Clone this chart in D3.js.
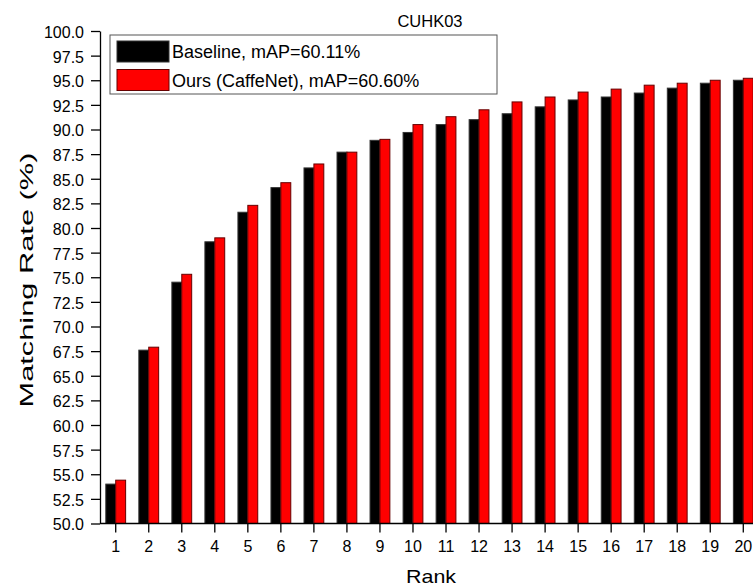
<!DOCTYPE html>
<html><head><meta charset="utf-8">
<script src="https://cdn.jsdelivr.net/npm/d3@7"></script>
<style>body{margin:0;background:#fff;} text{font-family:"Liberation Sans",Arial,sans-serif;}</style>
</head><body><svg id="c" width="753" height="586"></svg>
<script>
const ranks = ["1","2","3","4","5","6","7","8","9","10","11","12","13","14","15","16","17","18","19","20"];
const baseline = [54.0,67.6,74.5,78.6,81.6,84.1,86.1,87.7,88.9,89.7,90.5,91.0,91.6,92.3,93.0,93.3,93.7,94.2,94.7,95.0];
const ours = [54.4,67.9,75.3,79.0,82.3,84.6,86.5,87.7,89.0,90.5,91.3,92.0,92.8,93.3,93.8,94.1,94.5,94.7,95.0,95.2];
const yTicks = [50,52.5,55,57.5,60,62.5,65,67.5,70,72.5,75,77.5,80,82.5,85,87.5,90,92.5,95,97.5,100];
const seriesNames = ["Baseline, mAP=60.11%","Ours (CaffeNet), mAP=60.60%"];
const seriesColors = ["#000000","#ff0000"];

(function(){
const svg = d3.select("#c");
const mLeft = 100, mRight = 760, mTop = 31, mBottom = 523.5;
const x = d3.scaleBand().domain(ranks).range([99.2, 759.8]).paddingInner(0.4).paddingOuter(0.2);
const x1 = d3.scaleBand().domain([0,1]).range([0, x.bandwidth()]);
const y = d3.scaleLinear().domain([50,100]).range([mBottom, mTop]);

const data = ranks.map((r,i)=>({r, vals:[baseline[i], ours[i]]}));
const g = svg.append("g");
g.selectAll("g.grp").data(data).join("g").attr("class","grp")
  .attr("transform", d=>`translate(${x(d.r)},0)`)
  .selectAll("rect").data(d=>d.vals.map((v,k)=>({v,k}))).join("rect")
  .attr("x", d=>x1(d.k)).attr("width", x1.bandwidth())
  .attr("y", d=>y(d.v)).attr("height", d=>y(50)-y(d.v))
  .attr("fill", d=>seriesColors[d.k])
  .attr("stroke", d=>d.k===0?"#333":"#600").attr("stroke-width",1);

const ya = svg.append("g").attr("transform",`translate(${mLeft},0)`)
  .call(d3.axisLeft(y).tickValues(yTicks).tickFormat(d3.format(".1f")).tickSize(9).tickPadding(7).tickSizeOuter(0));
ya.attr("font-size",16).attr("font-family",null);
ya.selectAll("text").attr("fill","#000").attr("dy","0.4em");
ya.selectAll("line,path").attr("stroke","#000").attr("stroke-width",1.3);

const xa = svg.append("g").attr("transform",`translate(0,${mBottom})`)
  .call(d3.axisBottom(x).tickSize(9).tickPadding(8).tickSizeOuter(0));
xa.attr("font-size",16).attr("font-family",null);
xa.select("path").attr("d",`M${mLeft},0H${mRight}`);
xa.selectAll("text").attr("fill","#000");
xa.selectAll("line,path").attr("stroke","#000").attr("stroke-width",1.3);

svg.append("text").attr("x",430).attr("y",27).attr("text-anchor","middle").attr("font-size",16.5).text("CUHK03");
svg.append("text").attr("x",431).attr("y",583).attr("text-anchor","middle").attr("font-size",19)
  .attr("textLength",50).attr("lengthAdjust","spacingAndGlyphs").text("Rank");
svg.append("text").attr("transform","translate(33,280) rotate(-90)").attr("text-anchor","middle").attr("font-size",18)
  .attr("textLength",255).attr("lengthAdjust","spacingAndGlyphs").text("Matching Rate (%)");

const lg = svg.append("g");
lg.append("rect").attr("x",110).attr("y",35).attr("width",387).attr("height",59).attr("fill","#fff").attr("stroke","#555").attr("stroke-width",1);
seriesNames.forEach((n,i)=>{
  lg.append("rect").attr("x",117).attr("y",41+i*28.5).attr("width",52).attr("height",21).attr("fill",seriesColors[i]).attr("stroke",i===0?"#333":"#600");
  lg.append("text").attr("x",172).attr("y",58+i*28.5).attr("font-size",18).text(n);
});
})();
</script></body></html>
